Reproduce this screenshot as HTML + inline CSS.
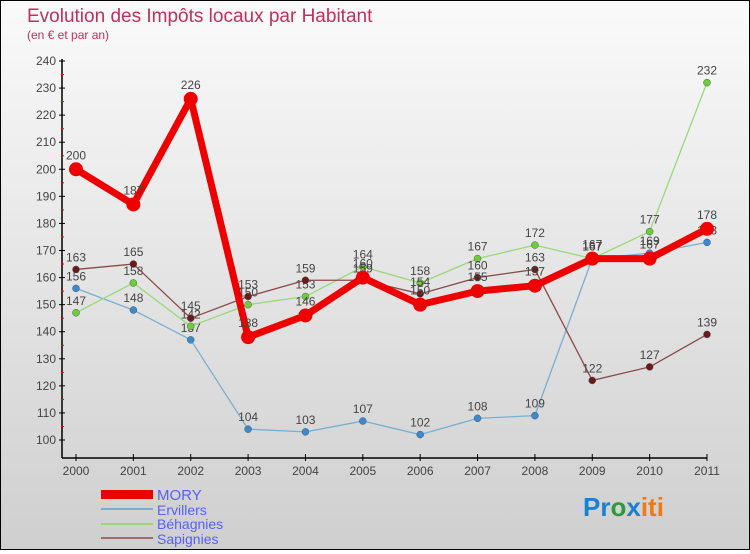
<!DOCTYPE html>
<html><head><meta charset="utf-8"><style>
body{margin:0}
#c{width:748px;height:548px;border:1px solid #000;background:linear-gradient(#fafafa,#cfcfcf);position:relative;font-family:"Liberation Sans",sans-serif}
</style></head><body>
<div id="c">
<svg id="s" width="748" height="548">
<text x="26" y="21" font-size="19" fill="#c0305a">Evolution des Impôts locaux par Habitant</text>
<text x="26" y="38" font-size="12" fill="#c0305a">(en € et par an)</text>
<g id="legend">
<rect x="100" y="489" width="52" height="9" fill="#e00"/>
<text x="156" y="499" font-size="15" fill="#5560ff">MORY</text>
<line x1="100" y1="508" x2="152" y2="508" stroke="#7aaed0" stroke-width="2"/>
<text x="156" y="514" font-size="14" fill="#5560ff">Ervillers</text>
<line x1="100" y1="523" x2="152" y2="523" stroke="#9ad87a" stroke-width="2"/>
<text x="156" y="528" font-size="14" fill="#5560ff">Béhagnies</text>
<line x1="100" y1="537" x2="152" y2="537" stroke="#a06a6a" stroke-width="2"/>
<text x="156" y="543" font-size="14" fill="#5560ff">Sapignies</text>
</g>
<g font-size="26" font-weight="bold">
<text x="582" y="515"><tspan fill="#1a7fd6">Pr</tspan><tspan fill="#2a9a3a">o</tspan><tspan fill="#1a7fd6">x</tspan><tspan fill="#f07a10">iti</tspan></text>
</g>
</svg>
</div>
<script>
const years=["2000","2001","2002","2003","2004","2005","2006","2007","2008","2009","2010","2011"];
const yTicks=[100,110,120,130,140,150,160,170,180,190,200,210,220,230,240];
const mory=[200,187,226,138,146,160,150,155,157,167,167,178];
const ervillers=[156,148,137,104,103,107,102,108,109,167,169,173];
const behagnies=[147,158,142,150,153,164,158,167,172,167,177,232];
const sapignies=[163,165,145,153,159,159,154,160,163,122,127,139];
const NS="http://www.w3.org/2000/svg";
const svg=document.getElementById('s');
function xs(i){return 75+i*(706-75)/(years.length-1);}
function ys(v){return 439-(v-100)*(439-60)/140;}
function el(t,a,p){const e=document.createElementNS(NS,t);for(const k in a)e.setAttribute(k,a[k]);(p||svg).appendChild(e);return e;}
const ax=el('g',{});


let l=el('line',{x1:61,y1:58,x2:61,y2:457,stroke:'#000','stroke-width':1.5},ax);
l=el('line',{x1:61,y1:457,x2:706,y2:457,stroke:'#000','stroke-width':1.5},ax);
yTicks.forEach(v=>{
  const y=ys(v);
  el('line',{x1:58,y1:y,x2:64,y2:y,stroke:'#000'},ax);
  if(v<240)el('line',{x1:60,y1:y-13.5,x2:63,y2:y-13.5,stroke:'#e00'},ax);
  const t=el('text',{x:55,y:y+4,'font-size':12,fill:'#444','text-anchor':'end'},ax);
  t.textContent=v;
  
  
});
years.forEach((yr,i)=>{
  const x=xs(i);
  el('line',{x1:x,y1:453,x2:x,y2:460,stroke:'#000'},ax);
  const t=el('text',{x:x,y:474,'font-size':12,fill:'#444','text-anchor':'middle'},ax);
  t.textContent=yr;
  
  
});
function series(data,name,color,dot,w,r){
  const g=el('g',{});
  
  
  el('polyline',{points:data.map((v,i)=>xs(i)+','+ys(v)).join(' '),fill:'none',stroke:color,'stroke-width':w,'stroke-linejoin':'round'},g);
  data.forEach((v,i)=>{
    const c=el('circle',{cx:xs(i),cy:ys(v),r:r,fill:dot,stroke:w>3?'none':'#555','stroke-width':0.5},g);
    
    
    const t=el('text',{x:xs(i),y:ys(v)-8-(w>3?2:0),'font-size':12,fill:'#444','text-anchor':'middle'},g);
    t.textContent=v;
    
    
  });
}
series(ervillers,'ervillers','#7aaed0','#3a8ad0',1.3,3.5);
series(behagnies,'behagnies','#9ad87a','#6ccf3a',1.3,3.5);
series(sapignies,'sapignies','#8a4a4a','#6a1a1a',1.3,3.5);
series(mory,'mory','#e00','#e00',7,7);
</script>
</body></html>
